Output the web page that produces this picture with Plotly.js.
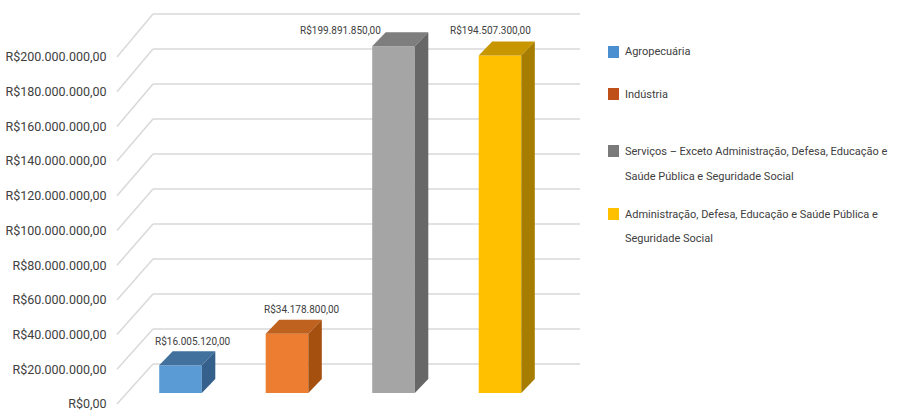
<!DOCTYPE html>
<html><head><meta charset="utf-8">
<script src="https://cdn.plot.ly/plotly-3.0.1.min.js"></script>
<style>html,body{margin:0;padding:0;background:#fff}#chart{width:897px;height:414px}</style>
</head><body><div id="chart"></div>
<script>
// ---- data ----
const categories = [
  'Agropecuária',
  'Indústria',
  'Serviços – Exceto Administração, Defesa, Educação e Saúde Pública e Seguridade Social',
  'Administração, Defesa, Educação e Saúde Pública e Seguridade Social'
];
const legendLines = [
  ['Agropecuária'],
  ['Indústria'],
  ['Serviços – Exceto Administração, Defesa, Educação e', 'Saúde Pública e Seguridade Social'],
  ['Administração, Defesa, Educação e Saúde Pública e', 'Seguridade Social']
];
const values = [16005120, 34178800, 199891850, 194507300];
const tickVals = [0, 20000000, 40000000, 60000000, 80000000, 100000000, 120000000, 140000000, 160000000, 180000000, 200000000];
const tickText = ['R$0,00', 'R$20.000.000,00', 'R$40.000.000,00', 'R$60.000.000,00', 'R$80.000.000,00', 'R$100.000.000,00',
  'R$120.000.000,00', 'R$140.000.000,00', 'R$160.000.000,00', 'R$180.000.000,00', 'R$200.000.000,00'];

// ---- styles ----
const frontColors = ['#5B9BD5', '#ED7D31', '#A5A5A5', '#FFC000'];
const topColors = ['#41719C', '#C0621F', '#7E7E7E', '#C79600'];
const sideColors = ['#35608C', '#A5500F', '#676767', '#A67D00'];
const legendColors = ['#4A8FD0', '#C0501A', '#7A7A7A', '#FFC000'];
const FONT = 'Roboto, "Liberation Sans", sans-serif';
const TXT = '#404040';

const W = 897, H = 414, M = {l: 153, r: 317, t: 5, b: 4};
const plotH = H - M.t - M.b, plotW = W - M.l - M.r;
const pxPerX = 106.5;
const xRange = [-27.5 / pxPerX, -27.5 / pxPerX + plotW / pxPerX];
const kBar = 1.735 / 1e6, kGrid = 1.75 / 1e6;
const bottomPx = H - M.b;
function rangeFor(zeroPx, kk) { return [-(bottomPx - zeroPx) / kk, (zeroPx - M.t) / kk]; }
const zeroBar = 393, zeroLab = 404, zeroGrid = 364;
const yBar = rangeFor(zeroBar, kBar), yLab = rangeFor(zeroLab, kBar), yGrid = rangeFor(zeroGrid, kGrid);
const barW = 0.4, hw = barW / 2, dx = 13.5 / pxPerX, dy = 14 / kBar;

function fmt(v) {
  const s = Math.round(v).toString().replace(/\B(?=(\d{3})+(?!\d))/g, '.');
  return 'R$' + s + ',00';
}

const xs = values.map((v, i) => i);
const traces = [{
  type: 'bar', x: xs, y: values, width: barW,
  marker: {color: frontColors, line: {width: 0}},
  hovertext: categories, hoverinfo: 'text+y', showlegend: false
}, {
  type: 'scatter', x: [], y: [], yaxis: 'y2', showlegend: false, hoverinfo: 'skip'
}, {
  type: 'scatter', x: [], y: [], yaxis: 'y3', showlegend: false, hoverinfo: 'skip'
}];

const shapes = [];
// back-wall gridlines and diagonals
tickVals.forEach(tv => {
  shapes.push({type: 'line', xref: 'paper', yref: 'y3', x0: 0, x1: 1, y0: tv, y1: tv,
    line: {color: '#D9D9D9', width: 1.5}, layer: 'below'});
  const labPx = zeroLab - tv * kBar;
  const yLow = (zeroGrid - labPx) / kGrid;
  shapes.push({type: 'line', xref: 'paper', yref: 'y3', x0: (117 - M.l) / plotW, x1: 0, y0: yLow, y1: tv,
    line: {color: '#D9D9D9', width: 1.5}, layer: 'below'});
});
// 3D faces
values.forEach((v, i) => {
  shapes.push({type: 'path', xref: 'x', yref: 'y', layer: 'above', line: {width: 0},
    fillcolor: topColors[i],
    path: `M ${i - hw},${v} L ${i + hw},${v} L ${i + hw + dx},${v + dy} L ${i - hw + dx},${v + dy} Z`});
  shapes.push({type: 'path', xref: 'x', yref: 'y', layer: 'above', line: {width: 0},
    fillcolor: sideColors[i],
    path: `M ${i + hw},0 L ${i + hw},${v} L ${i + hw + dx},${v + dy} L ${i + hw + dx},${dy} Z`});
});

const labelShift = [[12.5, 24], [15, 25], [-53, 16], [-10, 26]];
const annotations = values.map((v, i) => ({
  xref: 'x', yref: 'y', x: i, y: v, xshift: labelShift[i][0], yshift: labelShift[i][1],
  text: fmt(v), showarrow: false, xanchor: 'center', yanchor: 'middle',
  font: {family: FONT, size: 10, color: TXT}
}));

// custom legend
const legendY = [52, 94, 151, 214];
const lineGap = 25;
legendLines.forEach((lines, e) => {
  const y0 = legendY[e];
  shapes.push({type: 'rect', xref: 'paper', yref: 'paper',
    x0: (608 - M.l) / plotW, x1: (619 - M.l) / plotW,
    y0: (bottomPx - (y0 + 6)) / plotH, y1: (bottomPx - (y0 - 6)) / plotH,
    fillcolor: legendColors[e], line: {width: 0}});
  lines.forEach((t, j) => {
    annotations.push({xref: 'paper', yref: 'paper', x: (623 - M.l) / plotW, y: (bottomPx - (y0 + j * lineGap)) / plotH,
      xanchor: 'left', yanchor: 'middle', text: t, showarrow: false,
      font: {family: FONT, size: 11, color: TXT}});
  });
});

const layout = {
  width: W, height: H, margin: M, paper_bgcolor: '#fff', plot_bgcolor: 'rgba(0,0,0,0)',
  showlegend: false,
  xaxis: {range: xRange, showgrid: false, zeroline: false, showticklabels: false, ticks: '', fixedrange: true},
  yaxis: {range: yBar, visible: false, fixedrange: true},
  yaxis2: {range: yLab, overlaying: 'y', side: 'left', showgrid: false, zeroline: false,
    tickvals: tickVals, ticktext: tickText, ticks: 'outside', ticklen: 43, tickcolor: 'rgba(0,0,0,0)',
    tickfont: {family: FONT, size: 12.5, color: TXT}, fixedrange: true, showline: false},
  yaxis3: {range: yGrid, overlaying: 'y', visible: false, fixedrange: true},
  shapes: shapes, annotations: annotations,
  font: {family: FONT, color: TXT}
};
Plotly.newPlot('chart', traces, layout, {displayModeBar: false, staticPlot: true});
</script></body></html>
